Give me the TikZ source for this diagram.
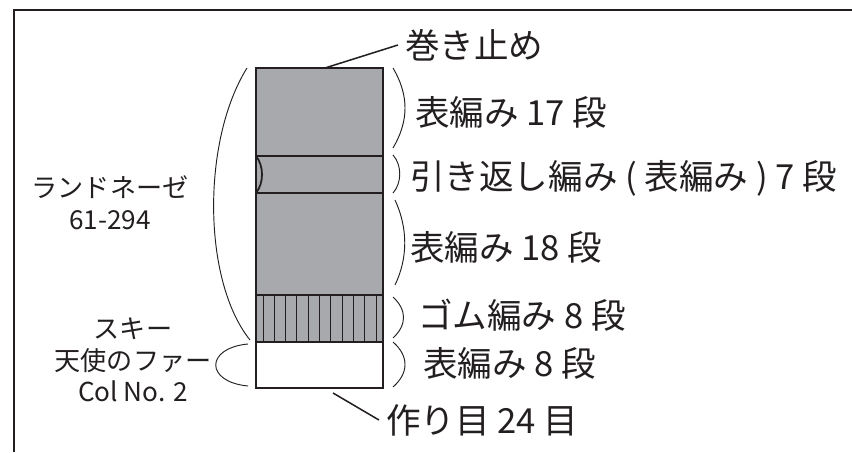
\documentclass[tikz,border=0pt]{standalone}
\usepackage{fontspec}
\setmainfont{Noto Sans CJK JP}
\usetikzlibrary{positioning}
\definecolor{knit}{HTML}{A7A9AC}
\definecolor{ink}{HTML}{231F20}
\tikzstyle{side} = [anchor=west, 
inner sep=0pt, 
font=\fontsize{29.5}{32}\selectfont, 
text=ink]
\tikzstyle{yarn} = [align=center, 
inner sep=0pt, 
font=\fontsize{22.3}{27}\selectfont, 
text=ink]
\tikzstyle{paren} = [draw=ink, line width=0.8pt]
\tikzstyle{leader} = [draw=ink, line width=1.3pt]
\tikzstyle{row} = [draw=ink, line width=1pt]

\begin{document}
\begin{tikzpicture}[x=0.03cm, y=-0.03cm]
\useasboundingbox (0,0) rectangle (852,452);

% frame
\draw [ink, line width=1.7pt] (14,452) -- (14,10) -- (852,10);

% body
\fill [knit] (256,68) rectangle (383,342);
\foreach \i in {0,...,10}
  \draw [row, line width=0.7pt] (263+11.3*\i,295) -- ++(0,47);
\draw [row] (256,156) -- (383,156);
\draw [row] (256,193) -- (383,193);
\draw [row] (256,295) -- (383,295);
\draw [row] (256,342) -- (383,342);
\draw [ink, line width=1.5pt] (256,156) .. controls (264,166) and (264,183) .. (256,193);
\draw [ink, line width=2pt] (256,68) rectangle (383,388);

% right parens
\draw [paren] (393,68) .. controls (409,95) and (409,121) .. (393,148);
\draw [paren] (393,155) .. controls (402,165) and (402,183) .. (393,193);
\draw [paren] (395,200) .. controls (408,228) and (408,258) .. (395,285);
\draw [paren] (393,297) .. controls (407,310) and (407,325) .. (393,338);
\draw [paren] (393,342) .. controls (409,356) and (409,373) .. (393,387);

% left parens
\draw [paren] (247,68) .. controls (202,140) and (202,280) .. (250,340);
\draw [paren] (248,344) .. controls (205,348) and (205,382) .. (248,386);

% labels
\node (stop) [side] at (405,45) {巻き止め};
\node (sec1) [side] at (415,112) {表編み 17 段};
\node (sec2) [side] at (410,178) {引き返し編み ( 表編み ) 7 段};
\node (sec3) [side] at (410,247) {表編み 18 段};
\node (sec4) [side] at (418,315) {ゴム編み 8 段};
\node (sec5) [side] at (423,363) {表編み 8 段};
\node (cast) [side] at (386,420) {作り目 24 目};

\node (main) [yarn] at (110,203) {ランドネーゼ\\61-294};
\node (fur) [yarn] at (133,360) {スキー\\天使のファー\\Col No. 2};

\coordinate (stopA) at (325,68);
\coordinate (castA) at (333,393);
\draw [leader] (stopA) -- ([xshift=-6pt]stop.west);
\draw [leader] (castA) -- ([xshift=-6pt]cast.west);

\end{tikzpicture}
\end{document}
